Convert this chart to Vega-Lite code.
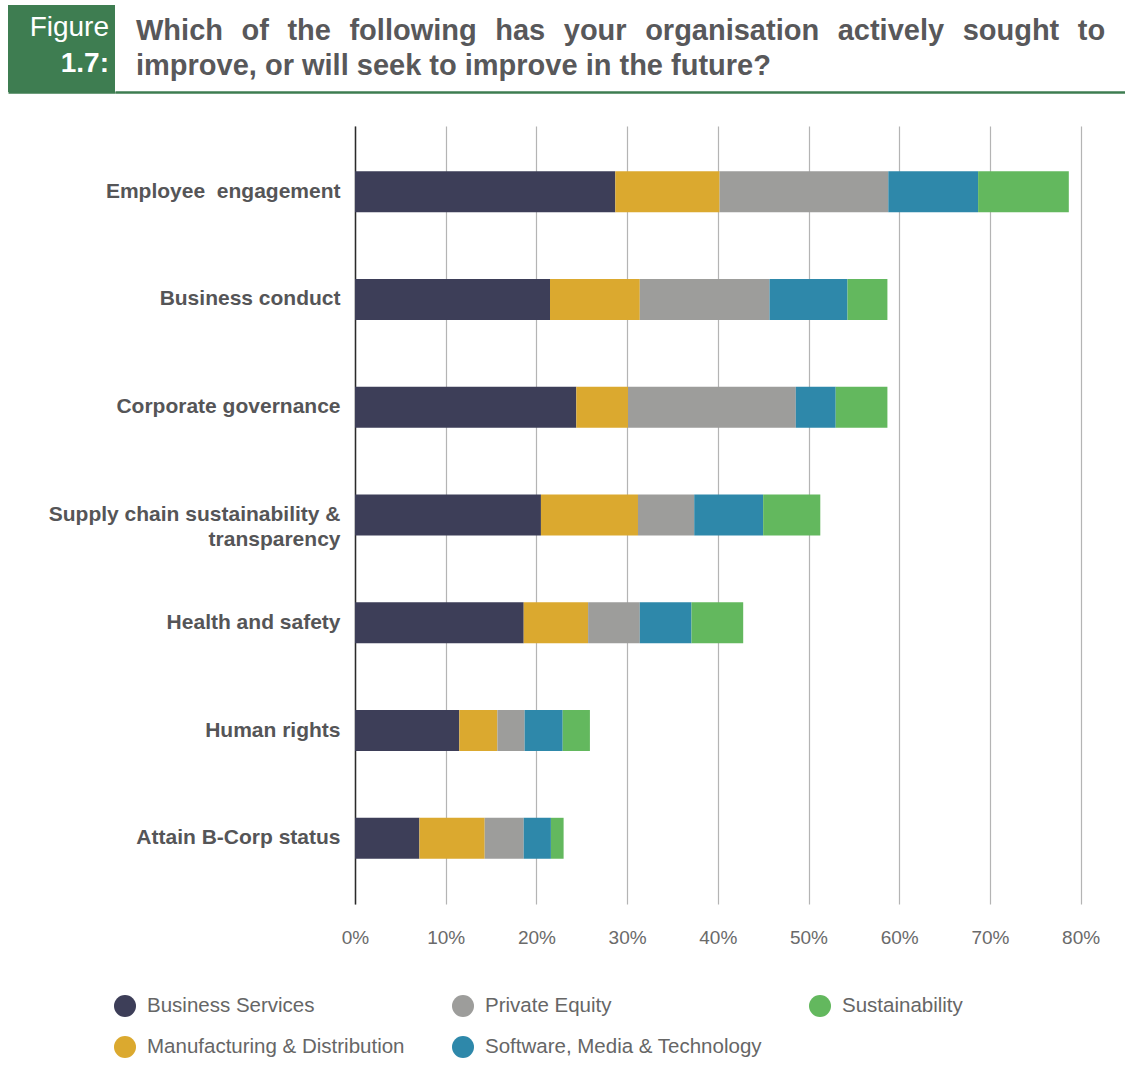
{
  "$schema": "https://vega.github.io/schema/vega-lite/v6.json",
  "background": "#ffffff",
  "padding": {"left": 8, "top": 5, "right": 0, "bottom": 0},
  "config": {
    "font": "Liberation Sans",
    "view": {"stroke": null}
  },
  "datasets": {
    "survey": [
      {"Area": "Employee  engagement", "Sector": "Business Services", "Value": 28.7},
      {"Area": "Employee  engagement", "Sector": "Manufacturing & Distribution", "Value": 11.5},
      {"Area": "Employee  engagement", "Sector": "Private Equity", "Value": 18.6},
      {"Area": "Employee  engagement", "Sector": "Software, Media & Technology", "Value": 9.9},
      {"Area": "Employee  engagement", "Sector": "Sustainability", "Value": 10.0},
      {"Area": "Business conduct", "Sector": "Business Services", "Value": 21.5},
      {"Area": "Business conduct", "Sector": "Manufacturing & Distribution", "Value": 9.9},
      {"Area": "Business conduct", "Sector": "Private Equity", "Value": 14.3},
      {"Area": "Business conduct", "Sector": "Software, Media & Technology", "Value": 8.6},
      {"Area": "Business conduct", "Sector": "Sustainability", "Value": 4.4},
      {"Area": "Corporate governance", "Sector": "Business Services", "Value": 24.4},
      {"Area": "Corporate governance", "Sector": "Manufacturing & Distribution", "Value": 5.7},
      {"Area": "Corporate governance", "Sector": "Private Equity", "Value": 18.5},
      {"Area": "Corporate governance", "Sector": "Software, Media & Technology", "Value": 4.4},
      {"Area": "Corporate governance", "Sector": "Sustainability", "Value": 5.7},
      {"Area": "Supply chain sustainability & transparency", "Sector": "Business Services", "Value": 20.5},
      {"Area": "Supply chain sustainability & transparency", "Sector": "Manufacturing & Distribution", "Value": 10.7},
      {"Area": "Supply chain sustainability & transparency", "Sector": "Private Equity", "Value": 6.2},
      {"Area": "Supply chain sustainability & transparency", "Sector": "Software, Media & Technology", "Value": 7.6},
      {"Area": "Supply chain sustainability & transparency", "Sector": "Sustainability", "Value": 6.3},
      {"Area": "Health and safety", "Sector": "Business Services", "Value": 18.6},
      {"Area": "Health and safety", "Sector": "Manufacturing & Distribution", "Value": 7.1},
      {"Area": "Health and safety", "Sector": "Private Equity", "Value": 5.7},
      {"Area": "Health and safety", "Sector": "Software, Media & Technology", "Value": 5.7},
      {"Area": "Health and safety", "Sector": "Sustainability", "Value": 5.7},
      {"Area": "Human rights", "Sector": "Business Services", "Value": 11.5},
      {"Area": "Human rights", "Sector": "Manufacturing & Distribution", "Value": 4.2},
      {"Area": "Human rights", "Sector": "Private Equity", "Value": 3.0},
      {"Area": "Human rights", "Sector": "Software, Media & Technology", "Value": 4.2},
      {"Area": "Human rights", "Sector": "Sustainability", "Value": 3.0},
      {"Area": "Attain B-Corp status", "Sector": "Business Services", "Value": 7.1},
      {"Area": "Attain B-Corp status", "Sector": "Manufacturing & Distribution", "Value": 7.2},
      {"Area": "Attain B-Corp status", "Sector": "Private Equity", "Value": 4.3},
      {"Area": "Attain B-Corp status", "Sector": "Software, Media & Technology", "Value": 3.0},
      {"Area": "Attain B-Corp status", "Sector": "Sustainability", "Value": 1.4}
    ]
  },
  "resolve": {"scale": {"x": "independent", "y": "independent"}},
  "spacing": 34,
  "vconcat": [
    {
      "spacing": 0,
      "resolve": {"scale": {"x": "independent", "y": "independent"}},
      "hconcat": [
        {
          "width": 107,
          "height": 87,
          "view": {"fill": "#3e7d51", "stroke": null},
          "title": {
            "text": "Figure",
            "subtitle": "1.7:",
            "anchor": "end",
            "frame": "group",
            "orient": "top",
            "offset": -73,
            "dx": -6,
            "font": "Liberation Sans",
            "fontSize": 28,
            "fontWeight": "normal",
            "color": "#ffffff",
            "subtitleFont": "Liberation Sans",
            "subtitleFontSize": 28,
            "subtitleFontWeight": "bold",
            "subtitleColor": "#ffffff",
            "subtitlePadding": 8
          },
          "data": {"values": [{"t": ""}]},
          "mark": {"type": "text", "text": ""},
          "encoding": {
            "x": {"datum": 0, "type": "quantitative", "scale": {"domain": [0, 1]},
              "axis": {"domain": true, "domainColor": "#3e7d51", "domainWidth": 2.5, "labels": false, "ticks": false, "grid": false, "title": null}}
          }
        },
        {
          "width": 1010,
          "height": 87,
          "view": {"fill": "#ffffff", "stroke": null},
          "title": {
            "text": ["Which \u00a0\u200aof \u00a0\u200athe \u00a0\u200afollowing \u00a0\u200ahas \u00a0\u200ayour \u00a0\u200aorganisation \u00a0\u200aactively \u00a0\u200asought \u00a0\u200ato", "improve, or will seek to improve in the future?"],
            "anchor": "start",
            "frame": "group",
            "orient": "top",
            "offset": -76,
            "dx": 21,
            "font": "Liberation Sans",
            "fontSize": 29,
            "fontWeight": "bold",
            "lineHeight": 35,
            "color": "#58585a"
          },
          "data": {"values": [{"t": ""}]},
          "mark": {"type": "text", "text": ""},
          "encoding": {
            "x": {"datum": 0, "type": "quantitative", "scale": {"domain": [0, 1]},
              "axis": {"domain": true, "domainColor": "#3e7d51", "domainWidth": 2.5, "labels": false, "ticks": false, "grid": false, "title": null}}
          }
        }
      ]
    },
    {
      "spacing": 0,
      "resolve": {"scale": {"x": "independent", "y": "independent"}},
      "hconcat": [
        {
          "width": 333,
          "height": 778,
          "data": {"name": "survey"},
          "mark": {"type": "text", "text": ""},
          "encoding": {
            "y": {
              "field": "Area",
              "type": "nominal",
              "sort": ["Employee  engagement", "Business conduct", "Corporate governance", "Supply chain sustainability & transparency", "Health and safety", "Human rights", "Attain B-Corp status"],
              "scale": {"type": "band", "paddingInner": 0.62, "paddingOuter": 0.42},
              "axis": {
                "orient": "right",
                "title": null,
                "ticks": false,
                "grid": false,
                "domain": false,
                "minExtent": 0,
                "maxExtent": 0,
                "labelAlign": "right",
                "labelPadding": -1,
                "labelFont": "Liberation Sans",
                "labelFontSize": 21,
                "labelFontWeight": "bold",
                "labelColor": "#555557",
                "labelLimit": 400,
                "labelLineHeight": 25,
                "labelExpr": "datum.value == 'Supply chain sustainability & transparency' ? ['Supply chain sustainability &', 'transparency'] : replace(datum.value, '  ', ' \u00a0')"
              }
            }
          }
        },
        {
          "width": 725.6,
          "height": 778,
          "data": {"name": "survey"},
          "mark": {"type": "bar"},
          "encoding": {
            "y": {
              "field": "Area",
              "type": "nominal",
              "sort": ["Employee  engagement", "Business conduct", "Corporate governance", "Supply chain sustainability & transparency", "Health and safety", "Human rights", "Attain B-Corp status"],
              "scale": {"type": "band", "paddingInner": 0.62, "paddingOuter": 0.42},
              "axis": {
                "title": null,
                "ticks": false,
                "grid": false,
                "labels": false,
                "domain": true,
                "minExtent": 0,
                "maxExtent": 0,
                "domainColor": "#2b2b2b",
                "domainWidth": 1.5
              }
            },
            "x": {
              "field": "Value",
              "type": "quantitative",
              "stack": "zero",
              "scale": {"domain": [0, 80], "nice": false},
              "axis": {
                "title": null,
                "values": [0, 10, 20, 30, 40, 50, 60, 70, 80],
                "labelExpr": "datum.value + '%'",
                "ticks": false,
                "domain": false,
                "grid": true,
                "gridColor": "#b4b4b4",
                "gridWidth": 1.2,
                "labelFont": "Liberation Sans",
                "labelFontSize": 19,
                "labelColor": "#6a6a6a",
                "labelPadding": 24,
                "labelFlush": false
              }
            },
            "color": {
              "field": "Sector",
              "type": "nominal",
              "scale": {
                "domain": ["Business Services", "Private Equity", "Sustainability", "Manufacturing & Distribution", "Software, Media & Technology"],
                "range": ["#3d3e58", "#9d9d9b", "#63b85e", "#dba92f", "#2e88aa"]
              },
              "legend": {
                "title": null,
                "orient": "none",
                "legendX": 106,
                "legendY": 990,
                "direction": "horizontal",
                "columns": 3,
                "symbolType": "circle",
                "symbolSize": 484,
                "symbolStrokeWidth": 0,
                "symbolOpacity": 1,
                "labelFont": "Liberation Sans",
                "labelFontSize": 20.5,
                "labelColor": "#666666",
                "labelOffset": 11,
                "labelLimit": 400,
                "columnPadding": 47,
                "rowPadding": 19,
                "padding": 0
              }
            },
            "order": {"field": "Sector", "sort": "ascending"}
          }
        }
      ]
    }
  ]
}
